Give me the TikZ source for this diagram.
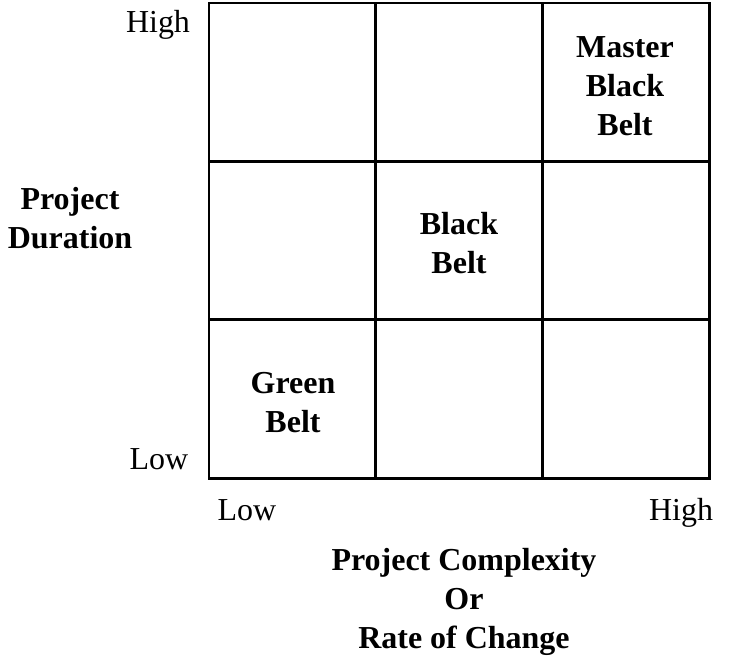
\documentclass[tikz,border=0pt]{standalone}
\usepackage{fontspec}
\setmainfont{Liberation Serif}
\usepackage{tikz}
\usetikzlibrary{positioning}

\tikzset{
  axisend/.style={anchor=base, inner sep=0pt, font=\fontsize{18.2}{22.2}\selectfont},
  beltlabel/.style={align=center, font=\fontsize{18.2}{22.2}\selectfont\bfseries},
}

\begin{document}
\begin{tikzpicture}
        \useasboundingbox (-4.18, -3.6) rectangle (10.44, 9.56);
        % the 3 by 3 matrix
        \draw[line width=1.7pt] (0, 0) rectangle (10, 9.5);
        \draw[line width=1.7pt] (10/3, 0) -- (10/3, 9.5);
        \draw[line width=1.7pt] (20/3, 0) -- (20/3, 9.5);
        \draw[line width=1.7pt] (0, 9.5/3) -- (10, 9.5/3);
        \draw[line width=1.7pt] (0, 19/3) -- (10, 19/3);
        % belts
        \node[beltlabel] (green) at (1.68, 1.5) {Green\\Belt};
        \node[beltlabel] (black) at (5.0, 4.7) {Black\\Belt};
        \node[beltlabel] (master) at (8.32, 7.84) {Master\\Black\\Belt};
        % vertical axis
        \node[axisend] (yhigh) at (-1.02, 8.9) {High};
        \node[axisend] (ylow) at (-1.0, 0.18) {Low};
        \node[beltlabel] (ytitle) at (-2.78, 5.2) {Project\\Duration};
        % horizontal axis
        \node[axisend] (xlow) at (0.76, -0.84) {Low};
        \node[axisend] (xhigh) at (9.44, -0.84) {High};
        \node[beltlabel] (xtitle) at (5.1, -2.48) {Project Complexity\\Or\\Rate of Change};
      \end{tikzpicture}
\end{document}
